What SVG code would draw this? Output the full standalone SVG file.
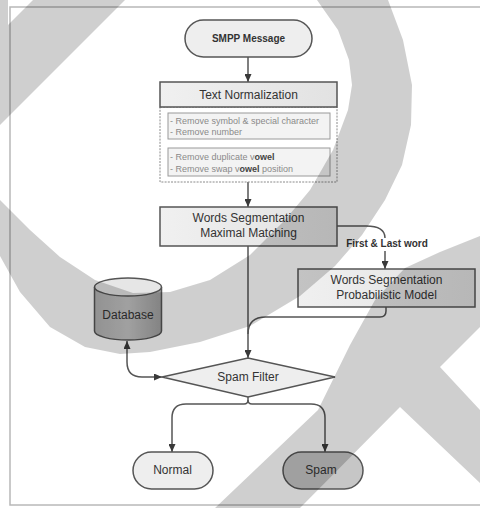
<svg xmlns="http://www.w3.org/2000/svg" width="480" height="508" viewBox="0 0 480 508">
  <defs>
    <marker id="arrow" viewBox="0 0 8 7" refX="8" refY="3.5" markerWidth="8" markerHeight="7" markerUnits="userSpaceOnUse" orient="auto-start-reverse">
      <path d="M0,0 L8,3.5 L0,7 z" fill="#3a3a3a"/>
    </marker>
    <linearGradient id="dbBody" x1="0" y1="0" x2="1" y2="0">
      <stop offset="0" stop-color="#b4b4b4"/>
      <stop offset="0.5" stop-color="#c6c6c6"/>
      <stop offset="1" stop-color="#a2a2a2"/>
    </linearGradient>
    <linearGradient id="boxFill" x1="0" y1="0" x2="1" y2="0">
      <stop offset="0" stop-color="#f0f0f0"/>
      <stop offset="1" stop-color="#e2e2e2"/>
    </linearGradient>
  </defs>
  <style>
    .box { fill: url(#boxFill); stroke: #555; stroke-width: 1.5; }
    .pill { fill: #eeeeee; stroke: #555; stroke-width: 1.5; }
    .sub { fill: #f3f3f3; stroke: #9a9a9a; stroke-width: 1; }
    .dash { fill: none; stroke: #8a8a8a; stroke-width: 1; stroke-dasharray: 2 1.2; }
    .lbl { font-family: "Liberation Sans", Arial, sans-serif; font-size: 12px; fill: #333; text-anchor: middle; }
    .bold { font-weight: bold; font-size: 10px; }
    .small { font-family: "Liberation Sans", Arial, sans-serif; font-size: 9px; fill: #8a8a8a; }
    .wire { fill: none; stroke: #555; stroke-width: 1.5; }
    .mark { fill: #000; fill-opacity: 0.19; }
  </style>

  <rect x="0" y="0" width="480" height="508" fill="#ffffff"/>
  <!-- page frame -->
  <rect x="10" y="7" width="480" height="498" fill="none" stroke="#b8b8b8" stroke-width="1.5"/>

  <g id="connectors">
    <path class="wire" d="M248,57 V82" marker-end="url(#arrow)"/>
    <path class="wire" d="M248,182 V207" marker-end="url(#arrow)"/>
    <path class="wire" d="M248,246 V358" marker-end="url(#arrow)"/>
    <path class="wire" d="M337,226 H366 Q385,226 385,238"/>
    <path class="wire" d="M385,251 V269" marker-end="url(#arrow)"/>
    <path class="wire" d="M386,307 V311 Q386,317 380,317 H266 Q248,317 248,334"/>
    <path class="wire" d="M127,341 V362 Q127,377 142,377 H162" marker-start="url(#arrow)" marker-end="url(#arrow)"/>
    <path class="wire" d="M248,397 V400 Q248,404 244,404 H186 Q172,404 172,418 V452" marker-end="url(#arrow)"/>
    <path class="wire" d="M248,400 Q248,404 252,404 H311 Q325,404 325,418 V452" marker-end="url(#arrow)"/>
  </g>
  <text class="lbl bold" x="387" y="246.5">First &amp; Last word</text>

  <g id="smpp-message">
    <rect class="pill" x="185" y="20" width="127" height="37" rx="18.5"/>
    <text class="lbl bold" x="248.5" y="42">SMPP Message</text>
  </g>

  <g id="text-normalization">
    <rect class="dash" x="160" y="107" width="177" height="75"/>
    <rect class="box" x="160" y="82" width="177" height="25"/>
    <text class="lbl" x="248.5" y="99">Text Normalization</text>
    <rect class="sub" x="168" y="113" width="162" height="26"/>
    <text class="small" x="170" y="124">- Remove symbol &amp; special character</text>
    <text class="small" x="170" y="135">- Remove number</text>
    <rect class="sub" x="168" y="148" width="162" height="28"/>
    <text class="small" x="170" y="160">- Remove duplicate v<tspan font-weight="bold" fill="#444">owel</tspan></text>
    <text class="small" x="170" y="171.5">- Remove swap v<tspan font-weight="bold" fill="#444">owel</tspan> position</text>
  </g>

  <g id="maximal-matching">
    <rect class="box" x="160" y="207" width="177" height="39"/>
    <text class="lbl" x="248.5" y="222">Words Segmentation</text>
    <text class="lbl" x="248.5" y="237">Maximal Matching</text>
  </g>

  <g id="probabilistic-model">
    <rect class="box" x="298" y="269" width="177" height="38"/>
    <text class="lbl" x="386.5" y="284">Words Segmentation</text>
    <text class="lbl" x="386.5" y="299">Probabilistic Model</text>
  </g>

  <g id="database">
    <path d="M94.5,287 V331 A33.5,9 0 0 0 161.5,331 V287" fill="url(#dbBody)" stroke="#555" stroke-width="1.5"/>
    <ellipse cx="128" cy="287" rx="33.5" ry="9" fill="#e6e6e6" stroke="#555" stroke-width="1.5"/>
    <text class="lbl" x="128" y="319">Database</text>
  </g>

  <g id="spam-filter">
    <polygon points="162,377 248,358 335,377 248,397" fill="#eeeeee" stroke="#555" stroke-width="1.5"/>
    <text class="lbl" x="248" y="381">Spam Filter</text>
  </g>

  <g id="normal">
    <rect class="pill" x="133" y="452" width="80" height="37" rx="18.5"/>
    <text class="lbl" x="172.5" y="474">Normal</text>
  </g>

  <g id="spam">
    <rect class="pill" x="283" y="452" width="80" height="37" rx="18.5" fill="#c6c6c6" style="fill:#c6c6c6"/>
    <text class="lbl" x="321" y="474">Spam</text>
  </g>

  <!-- translucent grey bands laid over the sheet -->
  <g id="overlay">
    <polygon class="mark" points="0,0 8,0 8,25 33,0 125,0 0,125"/>
    <polygon class="mark" points="388,0 403,40 412,85 411,125 402,165 385,200 362,235 335,266 300,296 250,326 200,342 150,352 120,354 85,347 50,327 20,292 0,256 0,200 30,230 60,257 95,280 133,293 170,292 210,280 250,255 285,220 310,190 333,150 348,110 352,85 349,60 338,30 317,0"/>
    <polygon class="mark" points="480,236 440,252 405,268 375,300 350,345 318,410 215,508 300,508 400,407 480,483 480,410 440,367 480,327"/>
  </g>
</svg>
